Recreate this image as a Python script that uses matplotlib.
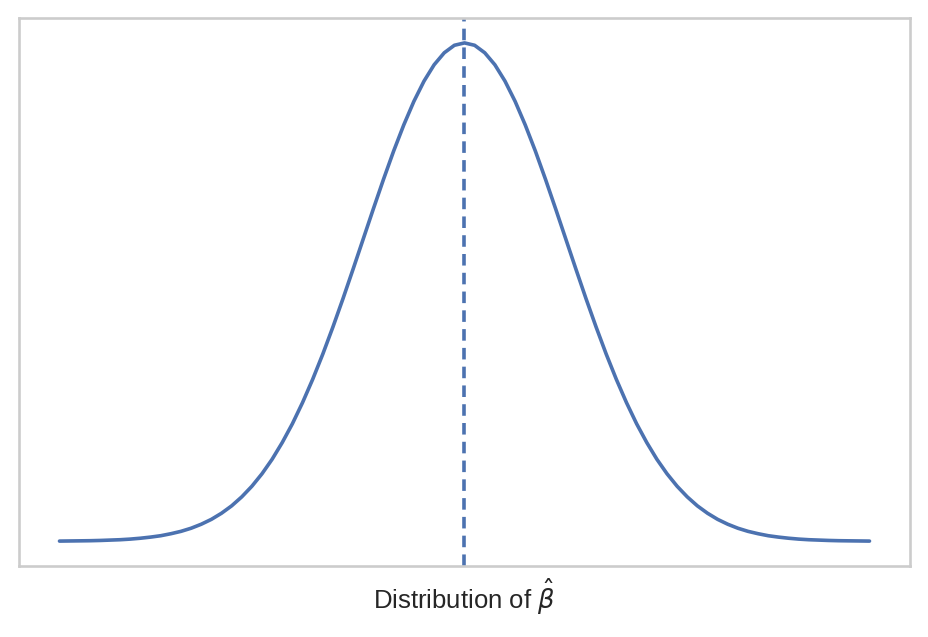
import matplotlib
matplotlib.use("Agg")
import matplotlib.pyplot as plt
import numpy as np
import seaborn as sns

sns.set_theme(style="whitegrid")
plt.rcParams['font.family'] = ['Liberation Sans', 'DejaVu Sans']

# right half of the curve (it is symmetric about 0)
x_half = [0.0, 0.1, 0.2, 0.3, 0.4, 0.5, 0.6, 0.7, 0.8, 0.9,
          1.0, 1.1, 1.2, 1.3, 1.4, 1.5, 1.6, 1.7, 1.8, 1.9,
          2.0, 2.1, 2.2, 2.3, 2.4, 2.5, 2.6, 2.7, 2.8, 2.9,
          3.0, 3.1, 3.2, 3.3, 3.4, 3.5, 3.6, 3.7, 3.8, 3.9, 4.0]
density_half = [0.3989, 0.3970, 0.3910, 0.3814, 0.3683, 0.3521, 0.3332, 0.3123, 0.2897, 0.2661,
                0.2420, 0.2179, 0.1942, 0.1714, 0.1497, 0.1295, 0.1109, 0.0940, 0.0790, 0.0656,
                0.0540, 0.0440, 0.0355, 0.0283, 0.0224, 0.0175, 0.0136, 0.0104, 0.0079, 0.0060,
                0.0044, 0.0033, 0.0024, 0.0017, 0.0012, 0.0009, 0.0006, 0.0004, 0.0003, 0.0002, 0.0001]
center = 0.0

x = [-v for v in x_half[:0:-1]] + x_half
density = density_half[:0:-1] + density_half

fig = plt.figure(figsize=(9.29, 6.37), dpi=100)
ax = fig.add_axes([19 / 929, 1 - 566 / 637, 891 / 929, 548 / 637])
ax.plot(x, density, color="#4c72b0", lw=2.6, solid_joinstyle="round")
ax.axvline(center, color="#4c72b0", lw=2.6, ls="--", dashes=(3.2, 2.0))
ax.grid(False)
ax.set_xticks([])
ax.set_yticks([])
for s in ax.spines.values():
    s.set_color("#cccccc")
    s.set_linewidth(1.9)
ax.set_xlabel(r"Distribution of $\hat{\beta}$", fontsize=18.5, color="#262626", labelpad=8)

fig.savefig("out.png", dpi=100)
